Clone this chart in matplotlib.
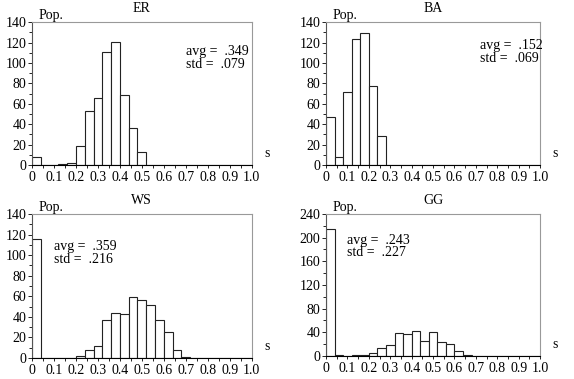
import numpy as np
import matplotlib
matplotlib.use("Agg")
from matplotlib import pyplot as plt
from matplotlib.ticker import MultipleLocator

plt.rcParams['font.family'] = ['Liberation Serif', 'DejaVu Serif']
plt.rcParams['font.size'] = 10

# histogram bins: width 0.04 from 0 to 1
bin_width = 0.04
bin_left = np.arange(25) * bin_width

er_counts = [8, 0, 0, 1, 2, 19, 53, 66, 111, 121, 69, 36, 13, 0, 0, 0, 0, 0, 0, 0, 0, 0, 0, 0, 0]
ba_counts = [47, 8, 72, 123, 129, 77, 28, 0, 0, 0, 0, 0, 0, 0, 0, 0, 0, 0, 0, 0, 0, 0, 0, 0, 0]
ws_counts = [116, 0, 0, 0, 0, 2, 8, 12, 37, 44, 43, 59, 56, 52, 37, 25, 8, 1, 0, 0, 0, 0, 0, 0, 0]
gg_counts = [215, 1, 0, 1, 2, 5, 13, 18, 38, 37, 42, 25, 40, 23, 20, 8, 2, 0, 0, 0, 0, 0, 0, 0, 0]

titles = ['ER', 'BA', 'WS', 'GG']
avgs = ['.349', '.152', '.359', '.243']
stds = ['.079', '.069', '.216', '.227']
ymax = [140, 140, 140, 240]
ystep = [20, 20, 20, 40]
counts = [er_counts, ba_counts, ws_counts, gg_counts]
xtick_labels = ['0', '0.1', '0.2', '0.3', '0.4', '0.5', '0.6', '0.7', '0.8', '0.9', '1.0']

# axes rectangles [left, bottom, width, height] in figure fractions
rects = [[0.0557, 0.5646, 0.383, 0.377],
         [0.568, 0.5646, 0.373, 0.377],
         [0.0557, 0.0554, 0.383, 0.380],
         [0.568, 0.0607, 0.373, 0.375]]
text_pos = [(0.70, 0.75), (0.72, 0.79), (0.10, 0.73), (0.10, 0.77)]

fig = plt.figure(figsize=(5.74, 3.79), dpi=100)

for i in range(4):
    ax = fig.add_axes(rects[i])
    ax.bar(bin_left, counts[i], width=bin_width, align='edge',
           facecolor='white', edgecolor='#222222', linewidth=0.8)
    ax.set_xlim(0, 1.0)
    ax.set_ylim(0, ymax[i])
    ax.set_xticks(np.arange(11) / 10)
    ax.set_xticklabels(xtick_labels)
    ax.xaxis.set_minor_locator(MultipleLocator(0.05))
    ax.yaxis.set_major_locator(MultipleLocator(ystep[i]))
    ax.yaxis.set_minor_locator(MultipleLocator(ystep[i] / 2))
    ax.tick_params(axis='x', which='both', length=2, width=0.6, pad=2, colors='black')
    ax.tick_params(axis='y', which='major', length=3, width=0.6, pad=1)
    ax.tick_params(axis='y', which='minor', length=2, width=0.6)
    for side in ['top', 'right']:
        ax.spines[side].set_color('#999999')
        ax.spines[side].set_linewidth(0.8)
    ax.spines['left'].set_color('#555555')
    ax.spines['left'].set_linewidth(0.8)
    ax.spines['bottom'].set_color('black')
    ax.spines['bottom'].set_linewidth(0.8)
    ax.set_title(titles[i], fontsize=10, pad=7)
    ax.text(0.03, 1.0, 'Pop.', transform=ax.transAxes, ha='left', va='bottom')
    ax.text(1.07, 0.08, 's', transform=ax.transAxes, ha='center', va='center')
    tx, ty = text_pos[i]
    ax.text(tx, ty, 'avg =  %s\nstd =  %s' % (avgs[i], stds[i]),
            transform=ax.transAxes, ha='left', va='center', linespacing=0.95)

fig.savefig('out.png', dpi=100)
